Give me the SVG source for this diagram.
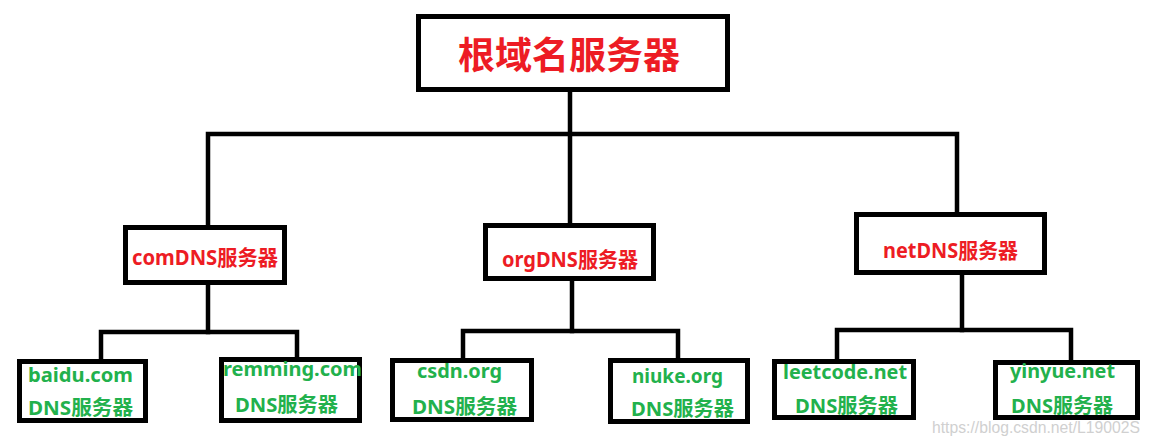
<svg xmlns="http://www.w3.org/2000/svg" width="1151" height="446" viewBox="0 0 1151 446">
<style>
.box{fill:#fff;stroke:#000;stroke-width:5}
.ln{fill:none;stroke:#000;stroke-width:4.5;stroke-linecap:square;stroke-linejoin:miter}
.red{fill:#ED1C24;font-family:"Noto Sans","Noto Sans CJK SC",sans-serif;font-weight:bold}
.grn{fill:#22B14C;font-family:"Noto Sans","Noto Sans CJK SC",sans-serif;font-weight:bold;font-size:20px}
.wm{fill:#d0d0d0;font-family:"Liberation Sans",Arial,sans-serif;font-size:17px}
</style>
<rect width="1151" height="446" fill="#fff"/>
<g id="connectors">
<path class="ln" d="M570,92 V224"/>
<path class="ln" d="M208,225 V134 H957 V212"/>
<path class="ln" d="M208,285 V332"/>
<path class="ln" d="M101,358 V332 H297 V357"/>
<path class="ln" d="M572,281 V331"/>
<path class="ln" d="M463,358 V331 H678 V358"/>
<path class="ln" d="M962,275 V330"/>
<path class="ln" d="M837,359 V330 H1071 V360"/>
</g>
<g id="root">
<rect class="box" x="418.5" y="16.5" width="309" height="73"/>
<text class="red" x="458" y="69" font-size="37" textLength="222" lengthAdjust="spacingAndGlyphs">根域名服务器</text>
</g>
<g id="com">
<rect class="box" x="125.5" y="227.5" width="159" height="55"/>
<text class="red" x="132" y="265" font-size="21" textLength="146" lengthAdjust="spacingAndGlyphs">comDNS服务器</text>
</g>
<g id="org">
<rect class="box" x="485.5" y="225.5" width="168" height="53"/>
<text class="red" x="502" y="267" font-size="21" textLength="136" lengthAdjust="spacingAndGlyphs">orgDNS服务器</text>
</g>
<g id="net">
<rect class="box" x="856.5" y="214.5" width="188" height="58"/>
<text class="red" x="883" y="258" font-size="21" textLength="135" lengthAdjust="spacingAndGlyphs">netDNS服务器</text>
</g>
<g id="baidu">
<rect class="box" x="19.5" y="361.5" width="126" height="59"/>
<text class="grn" x="28" y="382" textLength="105" lengthAdjust="spacingAndGlyphs">baidu.com</text>
<text class="grn" x="28" y="415" textLength="105" lengthAdjust="spacingAndGlyphs">DNS服务器</text>
</g>
<g id="remming">
<rect class="box" x="221.5" y="359.5" width="138" height="61"/>
<text class="grn" x="223" y="376" textLength="139" lengthAdjust="spacingAndGlyphs">remming.com</text>
<text class="grn" x="235" y="412" textLength="103" lengthAdjust="spacingAndGlyphs">DNS服务器</text>
</g>
<g id="csdn">
<rect class="box" x="392.5" y="360.5" width="139" height="59"/>
<text class="grn" x="417" y="378" textLength="85" lengthAdjust="spacingAndGlyphs">csdn.org</text>
<text class="grn" x="412" y="414" textLength="105" lengthAdjust="spacingAndGlyphs">DNS服务器</text>
</g>
<g id="niuke">
<rect class="box" x="610.5" y="360.5" width="137" height="61"/>
<text class="grn" x="632" y="383" textLength="91" lengthAdjust="spacingAndGlyphs">niuke.org</text>
<text class="grn" x="631" y="416" textLength="103" lengthAdjust="spacingAndGlyphs">DNS服务器</text>
</g>
<g id="leetcode">
<rect class="box" x="774.5" y="361.5" width="139" height="56"/>
<text class="grn" x="783" y="379" textLength="124" lengthAdjust="spacingAndGlyphs">leetcode.net</text>
<text class="grn" x="795" y="413" textLength="103" lengthAdjust="spacingAndGlyphs">DNS服务器</text>
</g>
<g id="yinyue">
<rect class="box" x="995.5" y="362.5" width="142" height="55"/>
<text class="grn" x="1010" y="378" textLength="105" lengthAdjust="spacingAndGlyphs">yinyue.net</text>
<text class="grn" x="1011" y="413" textLength="102" lengthAdjust="spacingAndGlyphs">DNS服务器</text>
</g>
<text class="wm" x="932" y="433" textLength="208" lengthAdjust="spacingAndGlyphs">https://blog.csdn.net/L19002S</text>
</svg>
